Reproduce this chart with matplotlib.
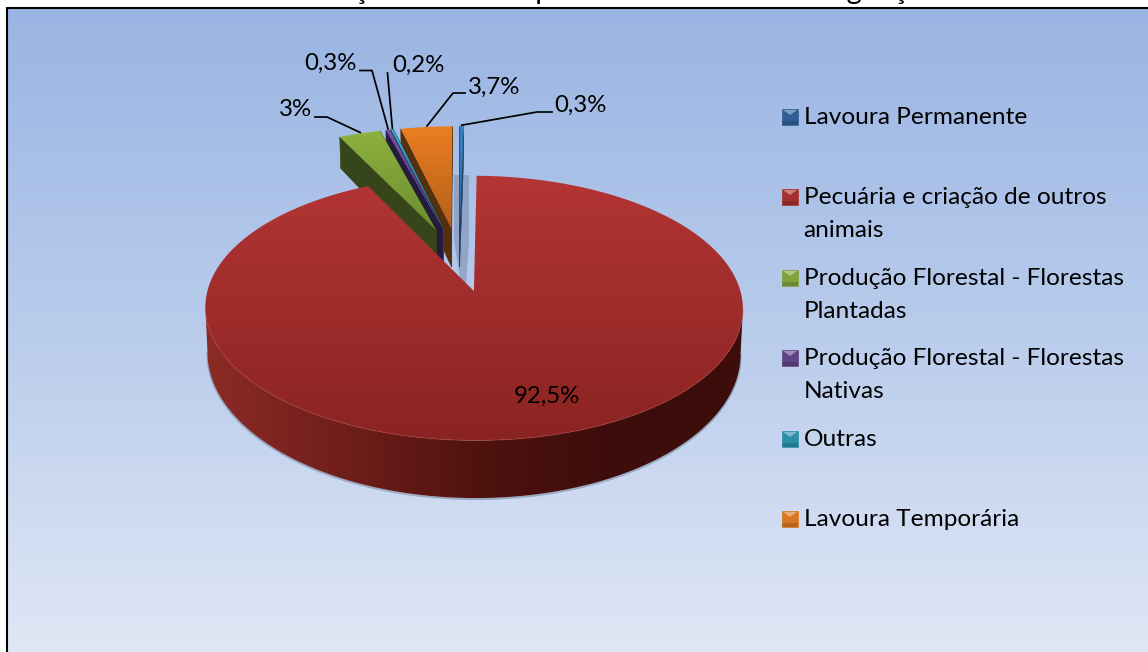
import numpy as np
import matplotlib
matplotlib.use("Agg")
import matplotlib.pyplot as plt
from matplotlib.colors import LinearSegmentedColormap as LSC
from matplotlib.patches import Polygon, Rectangle

plt.rcParams['font.family'] = ['Lato', 'DejaVu Sans']

title = "Gráfico 6 - Distribuição de Terras por Atividade Rural em Iguaçu no ano de 1996"
categories = ["Lavoura Permanente", "Pecuária e criação de outros\nanimais",
              "Produção Florestal - Florestas\nPlantadas", "Produção Florestal - Florestas\nNativas",
              "Outras", "Lavoura Temporária"]
values = [0.3, 92.5, 3.0, 0.3, 0.2, 3.7]
value_labels = ["0,3%", "92,5%", "3%", "0,3%", "0,2%", "3,7%"]
top_colors = [("#3A7FC4", "#2A659F"), ("#B43535", "#8A2422"), ("#8DB23F", "#6C8C2E"),
              ("#74519F", "#5C3F80"), ("#35AAC8", "#2A88A0"), ("#EC7F22", "#B55F18")]
side_colors = ["#1D3F66", "#5A1512", "#37451A", "#251B3E", "#17505F", "#54300F"]
legend_colors = ["#2F5F94", "#A42F2D", "#80A23A", "#5F4485", "#2C8FA8", "#D9761F"]

W, H = 1148, 652
START = 0.0        # degrees clockwise from the back of the pie
EXPLODE = 0.26
CX, CY, A, B, K, DZ = 459, 259, 122, 258, 0.125, 41

def proj(X, Y, z=0.0):
    s = 1 / (1 + K * Y)
    return CX + B * X * s * (1 - 0.008 * z), CY - A * Y * s + z * DZ * s ** 2

def wedge(t0, t1, n=200):
    mid = np.radians((t0 + t1) / 2)
    ox, oy = EXPLODE * np.sin(mid), EXPLODE * np.cos(mid)
    th = np.radians(np.linspace(t0, t1, n))
    return ox, oy, ox + np.sin(th), oy + np.cos(th)

fig = plt.figure(figsize=(W / 100, H / 100), dpi=100, facecolor="white")
ax = fig.add_axes([0, 0, 1, 1])
ax.set_axis_off()

def grad(colors, extent, clip=None, vertical=True, z=1):
    cmap = LSC.from_list("g", colors)
    arr = np.linspace(0, 1, 256)
    arr = arr[:, None] if vertical else arr[None, :]
    im = ax.imshow(arr, cmap=cmap, extent=extent, origin="upper", aspect="auto",
                   vmin=0, vmax=1, zorder=z, interpolation="bilinear")
    if clip is not None:
        p = Polygon(clip, closed=True, transform=ax.transData, fc="none", ec="none")
        ax.add_patch(p)
        im.set_clip_path(p)
    return im

# background panel
grad(["#9AB5E3", "#B9CCEC", "#DFE7F5"], (8, W + 2, H, 9), z=0)
ax.plot([7, 7, W + 2], [H + 2, 8, 8], color="black", lw=1.5, zorder=0.5, solid_joinstyle="miter")

# title, cut by the top of the picture
ax.text(98, -1, title, fontsize=21.2, color="black", ha="left", va="baseline", zorder=6, clip_on=False)

# angles
fr = np.array(values) / sum(values) * 360
edges = START + np.concatenate([[0], np.cumsum(fr)])

# soft shadow beside the permanent crop slice
ax.add_patch(Polygon([(454, 175), (469, 175), (469, 240), (466, 285), (461, 285), (454, 240)],
                     closed=True, fc="#7486A6", ec="none", alpha=0.5, zorder=1.5))

# small exploded slices, right to left so every top covers its neighbour's wall
order = [0, 5, 4, 3, 2]
anchors = {}
for zi, i in enumerate(order):
    t0, t1 = edges[i], edges[i + 1]
    ox, oy, ax_x, ax_y = wedge(t0, t1, 40)
    apex = proj(ox, oy)
    x, y = proj(ax_x, ax_y)
    apex_b = proj(ox, oy, 1)
    xb, yb = proj(ax_x, ax_y, 1)
    z = 2 + zi * 0.1
    ax.add_patch(Polygon([apex, (x[0], y[0]), (xb[0], yb[0]), apex_b], closed=True,
                         fc=side_colors[i], ec=side_colors[i], lw=0.4, zorder=z))
    ax.add_patch(Polygon([apex, (x[-1], y[-1]), (xb[-1], yb[-1]), apex_b], closed=True,
                         fc=side_colors[i], ec=side_colors[i], lw=0.4, zorder=z))
    poly = np.vstack([[apex], np.column_stack([x, y])])
    grad(top_colors[i], (poly[:, 0].min() - 2, poly[:, 0].max() + 2, apex[1] + 1, y.min() - 1), clip=poly, z=z + 0.05)
    anchors[i] = (x[len(x) // 2], y[len(y) // 2])

# large slice
t0, t1 = edges[1], edges[2]
ox, oy, rx, ry = wedge(t0, t1, 900)
apex = proj(ox, oy)
x, y = proj(rx, ry)
xb, yb = proj(rx, ry, 1)
il, ir = np.argmin(x), np.argmax(x)
lo, hi = min(il, ir), max(il, ir)
side = np.vstack([np.column_stack([x[lo:hi + 1], y[lo:hi + 1]]),
                  np.column_stack([xb[lo:hi + 1], yb[lo:hi + 1]])[::-1]])
ax.plot(xb[lo:hi + 1], yb[lo:hi + 1] + 1.0, color="#55657F", lw=1.5, alpha=0.4, zorder=2.9)
grad(["#8C2B26", "#711F1B", "#50130F", "#3E0D0B", "#3C0E0C"],
     (x.min(), x.max(), yb.max() + 1, y[lo:hi + 1].min()), clip=side, vertical=False, z=3)
top = np.vstack([[apex], np.column_stack([x, y])])
grad(top_colors[1], (x.min(), x.max(), y.max(), y.min()), clip=top, z=3.2)
ax.plot(x[lo:hi + 1], y[lo:hi + 1], color="#B8423B", lw=0.8, alpha=0.5, zorder=3.3)

# data labels with leader lines
label_layout = {
    2: (295, 110, (315, 117), (327, 117)),
    3: (330, 63, (360, 70.5), (372, 70.5)),
    4: (418, 65, (387.5, 73), (387.5, 73)),
    5: (494, 87, (465, 93), (453, 93)),
    0: (580, 105, (552, 112), (537, 112)),
}
for i, (lx, ly, p0, p1) in label_layout.items():
    ax.text(lx, ly, value_labels[i], fontsize=17.3, ha="center", va="center", zorder=6)
    ax.plot([p0[0], p1[0], anchors[i][0]], [p0[1], p1[1], anchors[i][1] - 1], color="black", lw=1.25, zorder=5)
ax.text(547, 396, value_labels[1], fontsize=17.3, ha="center", va="center", zorder=6)

# legend
leg_y = [116, 196, 277, 357, 438, 518]
for name, c, yy in zip(categories, legend_colors, leg_y):
    ax.add_patch(Rectangle((782, yy - 7), 16, 16, fc=c, ec=c, lw=0.5, zorder=5))
    ax.add_patch(Polygon([(783, yy - 6), (797, yy - 6), (790, yy - 1)], closed=True,
                         fc="white", ec="none", alpha=0.4, zorder=5.1))
    ax.add_patch(Rectangle((782, yy + 5), 16, 4, fc="black", ec="none", alpha=0.15, zorder=5.1))
    ax.text(803.5, yy - 9, name, fontsize=17.6, ha="left", va="top", linespacing=1.68, zorder=6)

ax.set_xlim(0, W)
ax.set_ylim(H, 0)
fig.savefig("out.png", dpi=100)
